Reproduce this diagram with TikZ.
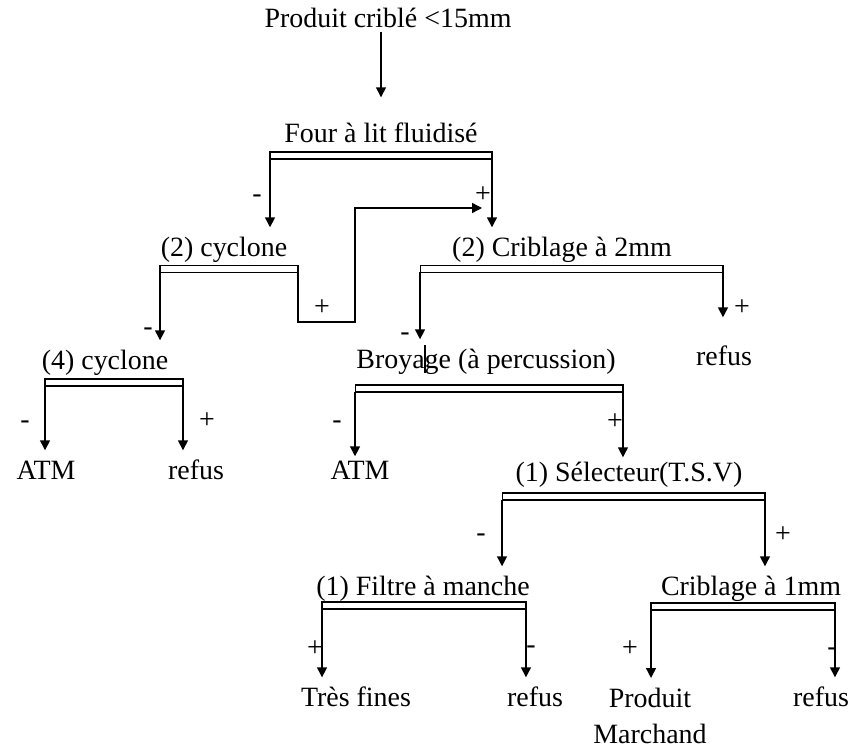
\documentclass[tikz,border=0pt]{standalone}
\usepackage{fontspec}
\setmainfont{Liberation Serif}
\usepackage{tikz}
\usetikzlibrary{arrows.meta}

\begin{document}
\begin{tikzpicture}[x=0.02cm,y=-0.02cm,-,>={Triangle[length=0.2cm,width=0.2cm]},
  line width=0.8pt,font=\fontsize{15.9}{20.5}\selectfont,
  unit node/.style={anchor=base,inner xsep=0pt,inner ysep=5.5pt,text height=11pt,text depth=3pt},
  bar node/.style={draw,line width=0.6pt,inner sep=0pt,outer sep=0pt,minimum height=0.14cm},
  sign node/.style={inner sep=0pt,yshift=-0.08cm},
  minus node/.style={sign node,yshift=-0.01cm}]
  \useasboundingbox (0,0) rectangle (856,749);

  % units and their split bars
  \node[unit node] (feed) at (388,28) {Produit criblé <15mm};
  \node[unit node] (four) at (381,143) {Four à lit fluidisé};
  \node[bar node,minimum width=4.44cm] (fourbar) at (381,155.5) {};
  \node[unit node] (cyc2) at (224,257) {(2) cyclone};
  \node[bar node,minimum width=2.76cm] (cyc2bar) at (229,269) {};
  \node[unit node] (crib2) at (562,257) {(2) Criblage à 2mm};
  \node[bar node,minimum width=6.06cm] (crib2bar) at (571.5,269) {};
  \node[unit node] (cyc4) at (105,370) {(4) cyclone};
  \node[bar node,minimum width=2.76cm] (cyc4bar) at (114,382.5) {};
  \node[unit node] (broy) at (486,369) {Broyage (à percussion)};
  \node[bar node,minimum width=5.36cm] (broybar) at (489,388.5) {};
  \node[unit node] (refus1) at (724,366) {refus};
  \node[unit node] (atm1) at (46,480) {ATM};
  \node[unit node] (refus2) at (196,480) {refus};
  \node[unit node] (atm2) at (360,480) {ATM};
  \node[unit node] (sel) at (629,482) {(1) Sélecteur(T.S.V)};
  \node[bar node,minimum width=5.26cm] (selbar) at (633.5,496.5) {};
  \node[unit node] (filt) at (423,596) {(1) Filtre à manche};
  \node[bar node,minimum width=4.08cm] (filtbar) at (424,605.5) {};
  \node[unit node] (crib1) at (751,596) {Criblage à 1mm};
  \node[bar node,minimum width=3.68cm] (crib1bar) at (743,606.5) {};
  \node[unit node] (fines) at (356,707) {Très fines};
  \node[unit node] (refus3) at (535,707) {refus};
  \node[anchor=north,align=center,inner xsep=0pt,inner ysep=0.18cm] (prod) at (650,678) {Produit\\Marchand};
  \node[unit node] (refus4) at (821,707) {refus};

  % signs of the outputs
  \node[minus node] (fourm) at (257,194) {-};
  \node[sign node] (fourp) at (483,191) {+};
  \node[minus node] (cyc2m) at (148,327) {-};
  \node[sign node] (cyc2p) at (322,304) {+};
  \node[minus node] (crib2m) at (405,332) {-};
  \node[sign node] (crib2p) at (742,304) {+};
  \node[minus node] (cyc4m) at (25,420) {-};
  \node[sign node] (cyc4p) at (207,417) {+};
  \node[minus node] (broym) at (337,420) {-};
  \node[sign node] (broyp) at (615,418) {+};
  \node[minus node] (selm) at (481,533) {-};
  \node[sign node] (selp) at (783,531) {+};
  \node[sign node] (filtp) at (315,645) {+};
  \node[minus node] (filtm) at (531,645) {-};
  \node[sign node] (crib1p) at (630,645) {+};
  \node[minus node] (crib1m) at (832,647) {-};

  \path[->]
    (feed.base -| four) edge [shorten <=0.08cm,shorten >=0.32cm] (four.north)
    (fourbar.south west) edge (fourbar.south west |- cyc2.north)
    (fourbar.south east) edge (fourbar.south east |- crib2.north)
    (cyc2bar.south west) edge (cyc2bar.south west |- cyc4.north)
    (crib2bar.south west) edge (crib2bar.south west |- broy.north)
    (crib2bar.south east) edge [shorten >=0.38cm] (crib2bar.south east |- refus1.north)
    (cyc4bar.south west) edge (cyc4bar.south west |- atm1.north)
    (cyc4bar.south east) edge (cyc4bar.south east |- refus2.north)
    (broybar.south west) edge [shorten >=-0.12cm] (broybar.south west |- atm2.north)
    (broybar.south east) edge [shorten >=-0.1cm] (broybar.south east |- sel.north)
    (selbar.south west) edge (selbar.south west |- filt.north)
    (selbar.south east) edge (selbar.south east |- crib1.north)
    (filtbar.south west) edge (filtbar.south west |- fines.north)
    (filtbar.south east) edge (filtbar.south east |- refus3.north)
    (crib1bar.south west) edge (crib1bar.south west |- prod.north)
    (crib1bar.south east) edge (crib1bar.south east |- refus4.north);

  % cyclone underflow sent back to the 2mm screen
  \coordinate (ret1) at (355,322);
  \coordinate (retend) at (482,208);
  \draw[->] (cyc2bar.south east) |- (ret1) |- (retend);

  % mark through Broyage
  \draw[line width=0.6pt] (425,345) -- (425,373);
\end{tikzpicture}
\end{document}
